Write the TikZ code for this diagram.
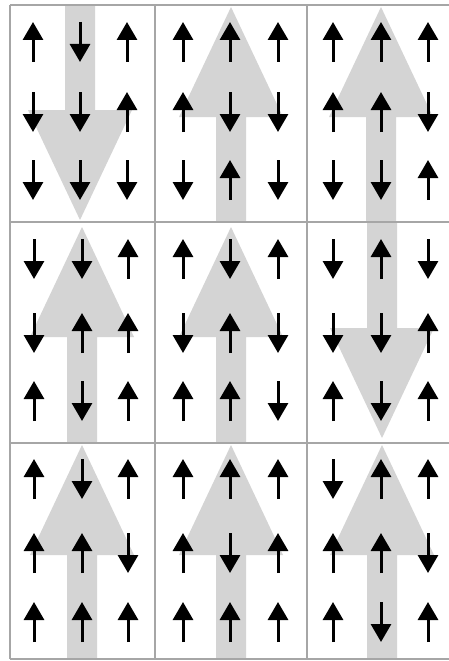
\documentclass[tikz,border=0pt]{standalone}
\usetikzlibrary{arrows.meta}
\definecolor{bigarrow}{HTML}{D4D4D4}
\definecolor{gridgray}{HTML}{A6A6A6}
\tikzset{
  spin/.style={line width=3pt, black, -{Triangle[width=20pt,length=18pt]}},
  bigfill/.style={fill=bigarrow, draw=none},
  gridline/.style={draw=gridgray, line width=2.6pt}
}
% big up arrow: cx, tip y, bottom y
\newcommand\bigUp[3]{\fill[bigfill] (#1-15,#3) -- (#1-15,#2+110) -- (#1-52,#2+110) -- (#1,#2) -- (#1+52,#2+110) -- (#1+15,#2+110) -- (#1+15,#3) -- cycle;}
% big down arrow: cx, top y, tip y
\newcommand\bigDown[3]{\fill[bigfill] (#1-15,#2) -- (#1-15,#3-110) -- (#1-52,#3-110) -- (#1,#3) -- (#1+52,#3-110) -- (#1+15,#3-110) -- (#1+15,#2) -- cycle;}
\newcommand\sU[2]{\draw[spin] (#1,#2+20) -- (#1,#2-20);}
\newcommand\sD[2]{\draw[spin] (#1,#2-20) -- (#1,#2+20);}
\begin{document}
\begin{tikzpicture}[x=1pt,y=-1pt]
\useasboundingbox (0,0) rectangle (449,661);
\fill[white] (0,0) rectangle (449,661);
% big arrows
\bigDown{80}{5}{220}
\bigUp{231}{7}{222}
\bigUp{381}{7}{222}
\bigUp{82}{227}{443}
\bigUp{231}{227}{443}
\bigDown{382}{222}{438}
\bigUp{82}{445}{659}
\bigUp{231}{445}{659}
\bigUp{382}{445}{659}
% grid
\draw[gridline] (10,5) -- (449,5);
\draw[gridline] (10,222) -- (449,222);
\draw[gridline] (10,443) -- (449,443);
\draw[gridline] (10,659) -- (449,659);
\draw[gridline] (10,5) -- (10,659);
\draw[gridline] (155,5) -- (155,659);
\draw[gridline] (307,5) -- (307,659);
% row 1 spins
\sU{33}{42}\sD{80}{42}\sU{127}{42}
\sD{33}{112}\sD{80}{112}\sU{127}{112}
\sD{33}{180}\sD{80}{180}\sD{127}{180}
\sU{183}{42}\sU{230}{42}\sU{278}{42}
\sU{183}{112}\sD{230}{112}\sD{278}{112}
\sD{183}{180}\sU{230}{180}\sD{278}{180}
\sU{333}{42}\sU{381}{42}\sU{428}{42}
\sU{333}{112}\sU{381}{112}\sD{428}{112}
\sD{333}{180}\sD{381}{180}\sU{428}{180}
% row 2 spins
\sD{34}{259}\sD{82}{259}\sU{128}{259}
\sD{34}{333}\sU{82}{333}\sU{128}{333}
\sU{34}{401}\sD{82}{401}\sU{128}{401}
\sU{183}{259}\sD{230}{259}\sU{278}{259}
\sD{183}{333}\sU{230}{333}\sD{278}{333}
\sU{183}{401}\sU{230}{401}\sD{278}{401}
\sD{333}{259}\sU{381}{259}\sD{428}{259}
\sD{333}{333}\sD{381}{333}\sU{428}{333}
\sU{333}{401}\sD{381}{401}\sU{428}{401}
% row 3 spins
\sU{34}{479}\sD{82}{479}\sU{128}{479}
\sU{34}{553}\sU{82}{553}\sD{128}{553}
\sU{34}{622}\sU{82}{622}\sU{128}{622}
\sU{183}{479}\sU{230}{479}\sU{278}{479}
\sU{183}{553}\sD{230}{553}\sU{278}{553}
\sU{183}{622}\sU{230}{622}\sU{278}{622}
\sD{333}{479}\sU{381}{479}\sU{428}{479}
\sU{333}{553}\sU{381}{553}\sD{428}{553}
\sU{333}{622}\sD{381}{622}\sU{428}{622}
\end{tikzpicture}
\end{document}
